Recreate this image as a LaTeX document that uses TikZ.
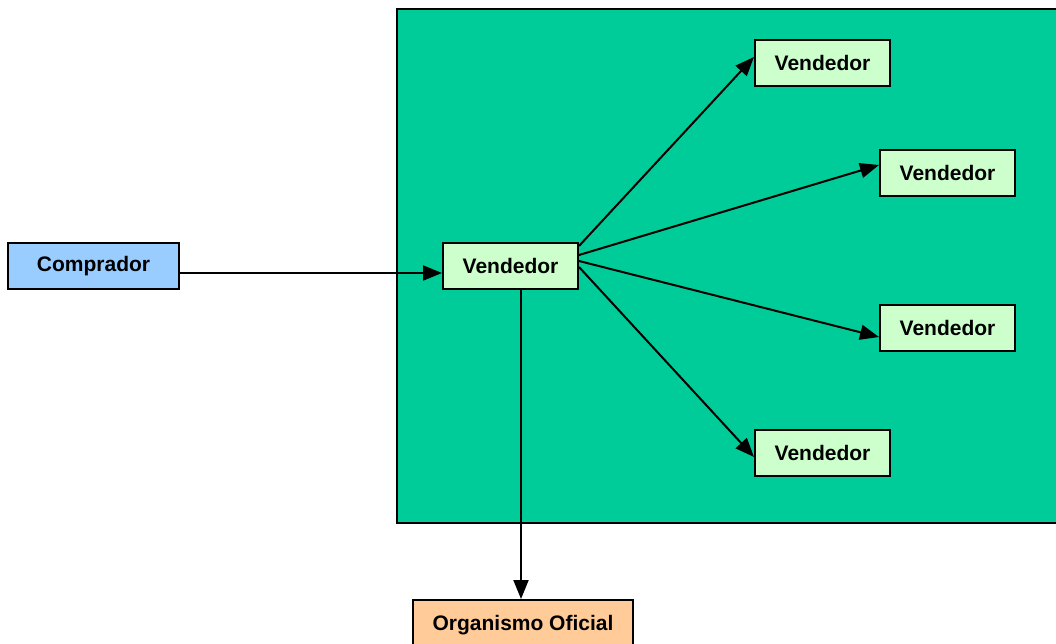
\documentclass[tikz,border=0pt]{standalone}
\usepackage{fontspec}
\setmainfont{Liberation Sans}
\usetikzlibrary{arrows.meta}
\definecolor{zone}{HTML}{00CC99}
\definecolor{sellerfill}{HTML}{CCFFCC}
\definecolor{buyerfill}{HTML}{99CCFF}
\definecolor{officefill}{HTML}{FFCC99}
\begin{document}
\begin{tikzpicture}[x=1pt,y=-1pt,
  box/.style={draw=black, line width=2pt, inner sep=0pt,
    minimum width=135pt, minimum height=46pt,
    font=\fontsize{21}{25}\selectfont\bfseries},
  seller/.style={box, fill=sellerfill},
  link/.style={line width=2pt, -{Triangle[length=19pt,width=15pt]}}]
\useasboundingbox (0,0) rectangle (1056,643);
\begin{scope}
\clip (0,0) rectangle (1056,643);
% market area
\draw[line width=2pt, fill=zone] (397,9) rectangle (1070,523);
% participants
\node[box, fill=buyerfill, minimum width=171pt] (c) at (93.5,266) {Comprador};
\node[seller] (m) at (510.5,266) {Vendedor};
\node[seller] (v1) at (822.5,63) {Vendedor};
\node[seller] (v2) at (947.5,172.5) {Vendedor};
\node[seller] (v3) at (947.5,328) {Vendedor};
\node[seller] (v4) at (822.5,453) {Vendedor};
\node[box, fill=officefill, minimum width=220pt, minimum height=50pt] (o) at (523,625) {Organismo Oficial};
% connectors
\draw[link] ([yshift=-7pt]c.east) -- ([yshift=-7pt]m.west);
\draw[link] ([yshift=20pt]m.east) -- ([yshift=6pt]v1.west);
\draw[link] ([yshift=11pt]m.east) -- ([yshift=7.5pt]v2.west);
\draw[link] ([yshift=5pt]m.east) -- ([yshift=-9pt]v3.west);
\draw[link] ([yshift=-1pt]m.east) -- ([yshift=-4pt]v4.west);
\draw[link] ([xshift=10.5pt]m.south) -- ([xshift=10.5pt]m.south |- o.north);
\end{scope}
\end{tikzpicture}
\end{document}
